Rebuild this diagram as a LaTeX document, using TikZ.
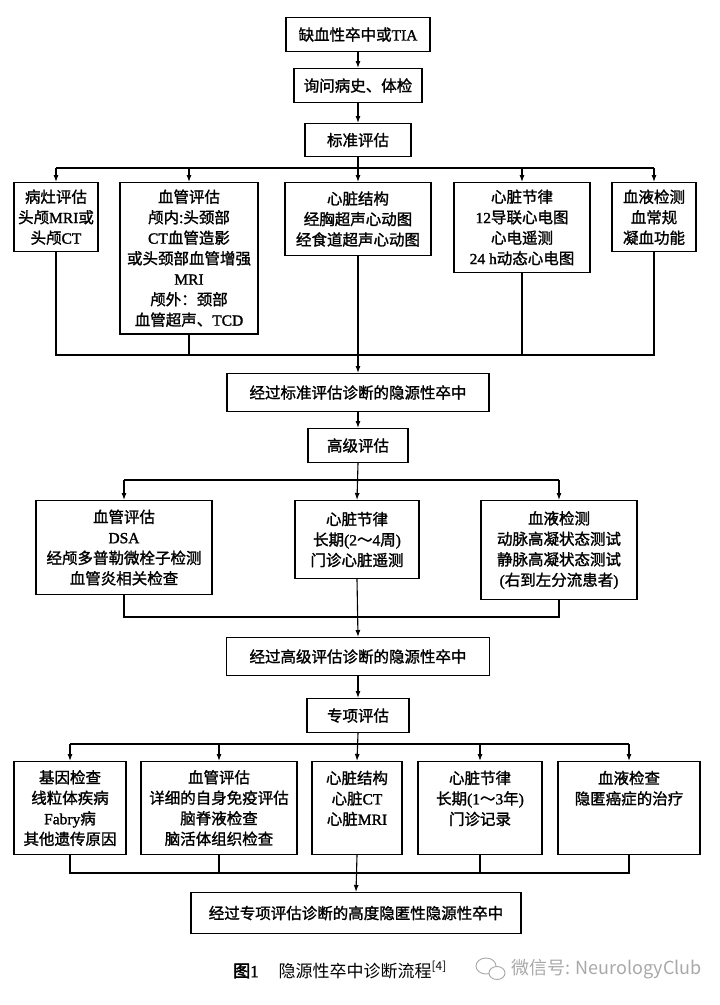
\documentclass[tikz,border=0pt]{standalone}
\usepackage{fontspec}
\setmainfont{Noto Sans CJK SC}
\newfontfamily\boxfont{Noto Sans CJK SC}[FakeBold=1.4]
\newfontfamily\latfont{Liberation Serif}[FakeBold=1.4]
\newfontfamily\capbold{Noto Sans CJK SC}[FakeBold=2.5]
\newfontfamily\wmfont{Noto Sans CJK SC}
\newcommand{\la}[1]{{\latfont #1}}
\usetikzlibrary{arrows.meta}
\definecolor{wmgray}{gray}{0.66}
\tikzset{
  box/.style={draw, line width=1.1pt, fill=white, align=center, inner xsep=2pt, inner ysep=7pt,
    font=\boxfont\fontsize{15.5}{20.5}\selectfont, anchor=north},
  one/.style={box, inner ysep=0pt},
  ln/.style={line width=1.1pt},
  arr/.style={line width=1.1pt, -{Latex[length=7pt,width=5pt]}},
}
\begin{document}
\begin{tikzpicture}[x=1pt,y=-1pt]
\useasboundingbox (0,0) rectangle (720,1005);
% top chain
\node[one, minimum width=144, minimum height=34] (n1) at (358,17) {缺血性卒中或\la{TIA}};
\node[one, minimum width=128, minimum height=34] (n2) at (358,68) {询问病史、体检};
\node[one, minimum width=106, minimum height=33] (n3) at (358,123) {标准评估};
\coordinate (b1) at (358,168);
% standard row
\node[box, minimum width=84] (s1) at (56,182) {病灶评估\\头颅\la{MRI}或\\头颅\la{CT}};
\node[box, minimum width=138] (s2) at (189,182) {血管评估\\颅内:头颈部\\\la{CT}血管造影\\或头颈部血管增强\\\la{MRI}\\颅外：颈部\\血管超声、\la{TCD}};
\node[box, minimum width=146, minimum height=73] (s3) at (358,182) {心脏结构\\经胸超声心动图\\经食道超声心动图};
\node[box, minimum width=136] (s4) at (522,182) {心脏节律\\\la{12}导联心电图\\心电遥测\\\la{24 h}动态心电图};
\node[box, minimum width=84] (s5) at (654,182) {血液检测\\血常规\\凝血功能};
\draw[ln] (s1.north |- b1) -- (s5.north |- b1);
\draw[arr] (n1) -- (n2);
\draw[arr] (n2) -- (n3);
\draw[arr] (n3.south) -- (s3.north);
\foreach \n in {s1,s2,s4,s5} \draw[arr] (\n.north |- b1) -- (\n.north);
\coordinate (b2) at (358,355);
\draw[ln] (s1.south) -- (s1.south |- b2) -- (s5.south |- b2) -- (s5.south);
\draw[ln] (s2.south) -- (s2.south |- b2);
\draw[ln] (s4.south) -- (s4.south |- b2);
% advanced
\node[one, minimum width=262, minimum height=38] (m1) at (358,373) {经过标准评估诊断的隐源性卒中};
\node[one, minimum width=100, minimum height=34] (m2) at (358,428) {高级评估};
\draw[arr] (s3.south) -- (m1.north);
\draw[arr] (m1) -- (m2);
\coordinate (b3) at (358,480);
\node[box, minimum width=176, minimum height=94] (a1) at (124,500) {血管评估\\\la{DSA}\\经颅多普勒微栓子检测\\血管炎相关检查};
\node[box, minimum width=124, minimum height=78] (a2) at (357,500) {心脏节律\\长期\la{(2}～\la{4}周\la{)}\\门诊心脏遥测};
\node[box, minimum width=156, minimum height=99] (a3) at (559,500) {血液检测\\动脉高凝状态测试\\静脉高凝状态测试\\\la{(}右到左分流患者\la{)}};
\draw[ln] (a1.north |- b3) -- (a3.north |- b3);
\draw[arr] (m2.south) -- (a2.north);
\draw[arr] (a1.north |- b3) -- (a1.north);
\draw[arr] (a3.north |- b3) -- (a3.north);
\coordinate (b4) at (358,617);
\draw[ln] (a1.south) -- (a1.south |- b4) -- (a3.south |- b4) -- (a3.south);
% special
\node[one, minimum width=263, minimum height=38] (m3) at (358,637) {经过高级评估诊断的隐源性卒中};
\node[one, minimum width=102, minimum height=34] (m4) at (358,698) {专项评估};
\draw[arr] (a2.south) -- (m3.north);
\draw[arr] (m3) -- (m4);
\coordinate (b5) at (358,744);
\node[box, minimum width=112, minimum height=93] (p1) at (70,761) {基因检查\\线粒体疾病\\\la{Fabry}病\\其他遗传原因};
\node[box, minimum width=156, minimum height=93] (p2) at (219,761) {血管评估\\详细的自身免疫评估\\脑脊液检查\\脑活体组织检查};
\node[box, minimum width=90, minimum height=93] (p3) at (357,761) {心脏结构\\心脏\la{CT}\\心脏\la{MRI}\\\mbox{}};
\node[box, minimum width=124, minimum height=93] (p4) at (480,761) {心脏节律\\长期\la{(1}～\la{3}年\la{)}\\门诊记录\\\mbox{}};
\node[box, minimum width=142, minimum height=93] (p5) at (629,761) {血液检查\\隐匿癌症的治疗\\\mbox{}\\\mbox{}};
\draw[ln] (p1.north |- b5) -- (p5.north |- b5);
\draw[arr] (m4.south) -- (p3.north);
\foreach \n in {p1,p2,p4,p5} \draw[arr] (\n.north |- b5) -- (\n.north);
\coordinate (b6) at (358,873);
\draw[ln] (p1.south) -- (p1.south |- b6) -- (p5.south |- b6) -- (p5.south);
\draw[ln] (p2.south) -- (p2.south |- b6);
\draw[ln] (p4.south) -- (p4.south |- b6);
\node[one, minimum width=330, minimum height=41] (fin) at (356,892) {经过专项评估诊断的高度隐匿性隐源性卒中};
\draw[arr] (p3.south) -- (fin.north);
% caption
\node[font=\fontsize{17}{19}\selectfont, inner sep=0pt, anchor=west] (cap) at (233,970) {{\capbold 图\la{1}}\hspace{20pt}隐源性卒中诊断流程\textsuperscript{[4]}};
% watermark
\draw[wmgray, line width=0.9pt] (486,966) ellipse [x radius=10, y radius=8];
\draw[wmgray, line width=0.9pt, fill=white] (497,973) ellipse [x radius=8, y radius=6.5];
\node[wmgray, font=\wmfont\fontsize{18}{20}\selectfont, inner sep=0pt, anchor=west] (wm) at (511,969) {微信号: NeurologyClub};
\end{tikzpicture}
\end{document}
